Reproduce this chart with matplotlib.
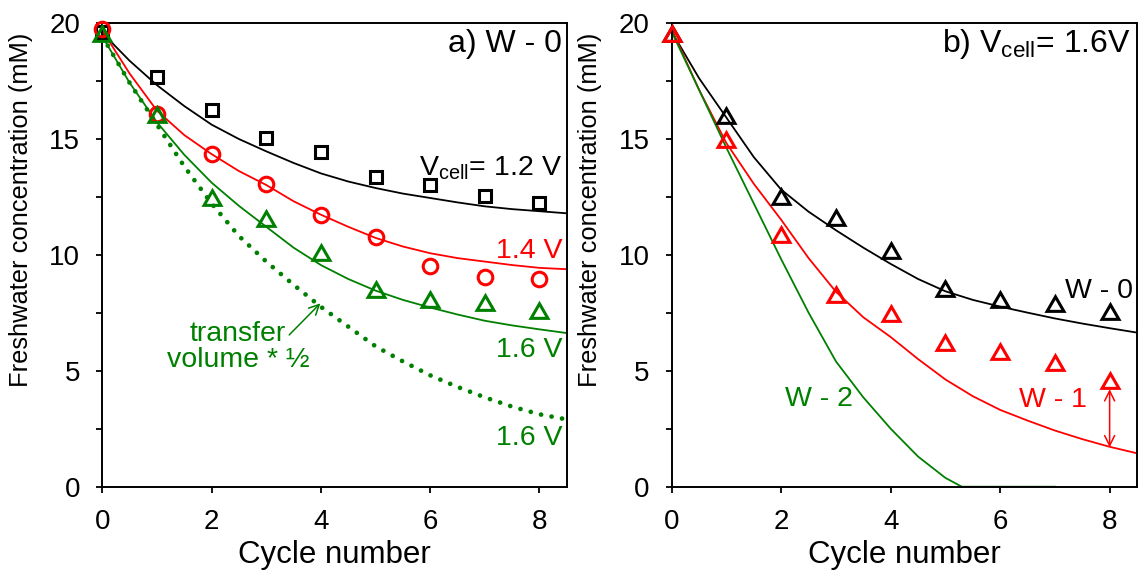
import matplotlib
matplotlib.use('Agg')
import matplotlib.pyplot as plt

plt.rcParams['font.family'] = ['Liberation Sans', 'DejaVu Sans']
plt.rcParams['mathtext.fontset'] = 'custom'
plt.rcParams['mathtext.rm'] = 'Liberation Sans'
plt.rcParams['mathtext.it'] = 'Liberation Sans:italic'

# ---------------- data ----------------
cycles = [0, 1, 2, 3, 4, 5, 6, 7, 8]
model_x = [0, 0.5, 1, 1.5, 2, 2.5, 3, 3.5, 4, 4.5, 5, 5.5, 6, 6.5, 7, 7.5, 8, 8.5]

# panel a) W - 0, measured
a_12V = [19.6, 17.66, 16.24, 15.02, 14.44, 13.36, 13.0, 12.53, 12.24]
a_14V = [19.7, 16.06, 14.33, 13.03, 11.7, 10.75, 9.51, 9.03, 8.94]
a_16V = [19.4, 15.95, 12.36, 11.45, 10.0, 8.41, 7.97, 7.83, 7.5]
# panel a) model curves
a_12V_model = [19.55, 18.35, 17.3, 16.4, 15.6, 14.98, 14.45, 13.95, 13.5, 13.15,
               12.87, 12.63, 12.44, 12.25, 12.08, 11.96, 11.87, 11.78]
a_14V_model = [19.65, 17.8, 16.2, 15.15, 14.33, 13.6, 13.0, 12.3, 11.72, 11.2,
               10.72, 10.35, 10.06, 9.85, 9.7, 9.55, 9.43, 9.37]
a_16V_model = [19.4, 17.4, 15.7, 14.3, 13.1, 12.1, 11.2, 10.3, 9.55, 8.95,
               8.45, 8.05, 7.72, 7.42, 7.15, 6.95, 6.78, 6.62]
a_16V_half_model = [19.4, 17.4, 15.6, 13.8, 12.2, 10.8, 9.7, 8.7, 7.75, 6.9,
                    6.05, 5.4, 4.8, 4.3, 3.85, 3.45, 3.12, 2.9]

# panel b) Vcell = 1.6 V, measured
b_w0 = [19.4, 15.9, 12.4, 11.5, 10.06, 8.45, 7.97, 7.79, 7.44]
b_w1 = [19.4, 14.85, 10.75, 8.16, 7.36, 6.11, 5.72, 5.25, 4.48]
# panel b) model curves
b_w0_model = [19.6, 17.6, 15.9, 14.2, 12.8, 11.85, 11.05, 10.3, 9.6, 8.95,
              8.42, 8.05, 7.76, 7.5, 7.25, 7.03, 6.83, 6.64]
b_w1_model = [19.7, 17.1, 14.8, 13.05, 11.5, 9.85, 8.4, 7.3, 6.45, 5.5,
              4.62, 3.9, 3.31, 2.85, 2.42, 2.05, 1.72, 1.44]
w2_x = [0, 0.5, 1, 1.5, 2, 2.5, 3, 3.5, 4, 4.5, 5, 5.3, 6, 7]
b_w2_model = [19.6, 17.1, 14.6, 12.2, 9.8, 7.5, 5.4, 3.85, 2.5, 1.3, 0.38, 0.0, 0.0, 0.0]

BLACK = 'black'
RED = '#ff0000'
GREEN = '#008000'
TICK_FS = 20
XLAB_FS = 22.5
YLAB_FS = 18.4
ANN_FS = 20.5
TITLE_FS = 23
TRI = (3, 0, 0)

fig = plt.figure(figsize=(11.41, 5.79), dpi=100)
axa = fig.add_axes([0.0897, 0.1594, 0.4070, 0.8017])
axb = fig.add_axes([0.5887, 0.1594, 0.4078, 0.8017])

for ax in (axa, axb):
    ax.set_xlim(0, 8.5)
    ax.set_ylim(0, 20)
    ax.set_xticks([0, 2, 4, 6, 8])
    ax.set_yticks([0, 2.5, 5, 7.5, 10, 12.5, 15, 17.5, 20])
    ax.set_yticklabels(['0', '', '5', '', '10', '', '15', '', '20'])
    ax.tick_params(direction='out', length=4, width=1.3, labelsize=TICK_FS, pad=12)
    for s in ax.spines.values():
        s.set_linewidth(1.4)
    ax.set_xlabel('Cycle number', fontsize=XLAB_FS, labelpad=4)
    ax.set_ylabel('Freshwater concentration (mM)', fontsize=YLAB_FS)
    ax.yaxis.set_label_coords(-0.149, 0.597)

lw = 1.3
mk = dict(linestyle='none', markerfacecolor='none', clip_on=False, zorder=4)

# ---- panel a ----
axa.plot(model_x, a_12V_model, color=BLACK, lw=lw)
axa.plot(model_x, a_14V_model, color=RED, lw=lw)
axa.plot(model_x, a_16V_model, color=GREEN, lw=lw)
axa.plot(model_x, a_16V_half_model, color=GREEN, lw=3.4, linestyle=(0, (0.01, 2.25)),
         dash_capstyle='round')
axa.plot(cycles, a_12V, marker='s', ms=9.2, mew=2.2, color=BLACK, **mk)
axa.plot(cycles, a_14V, marker='o', ms=10.5, mew=2.2, color=RED, **mk)
axa.plot(cycles, a_16V, marker=TRI, ms=14, mew=2.2, color=GREEN, **mk)

axa.text(8.42, 18.75, 'a) W - 0', fontsize=TITLE_FS, ha='right', va='baseline', color=BLACK)
axa.text(8.42, 13.43, r'V$_{\mathrm{cell}}$= 1.2 V', fontsize=ANN_FS, ha='right',
         va='baseline', color=BLACK)
axa.text(8.42, 9.85, '1.4 V', fontsize=ANN_FS, ha='right', va='baseline', color=RED)
axa.text(8.42, 5.6, '1.6 V', fontsize=ANN_FS, ha='right', va='baseline', color=GREEN)
axa.text(8.42, 1.8, '1.6 V', fontsize=ANN_FS, ha='right', va='baseline', color=GREEN)
axa.text(2.48, 5.17, 'transfer\nvolume * ½', fontsize=ANN_FS, ha='center', va='baseline',
         multialignment='center', color=GREEN, linespacing=1.0)
axa.annotate('', xy=(3.99, 7.9), xytext=(3.42, 6.54),
             arrowprops=dict(arrowstyle='->', color=GREEN, lw=1.1,
                             shrinkA=0, shrinkB=0, mutation_scale=18))

# ---- panel b ----
axb.plot(model_x, b_w0_model, color=BLACK, lw=lw)
axb.plot(model_x, b_w1_model, color=RED, lw=lw)
axb.plot(w2_x, b_w2_model, color=GREEN, lw=lw)
axb.plot(cycles, b_w0, marker=TRI, ms=14, mew=2.2, color=BLACK, **mk)
axb.plot(cycles, b_w1, marker=TRI, ms=14, mew=2.2, color=RED, **mk)

axb.text(8.39, 18.75, r'b) V$_{\mathrm{cell}}$= 1.6V', fontsize=TITLE_FS, ha='right',
         va='baseline', color=BLACK)
axb.text(8.42, 8.12, 'W - 0', fontsize=ANN_FS, ha='right', va='baseline', color=BLACK)
axb.text(7.58, 3.45, 'W - 1', fontsize=ANN_FS, ha='right', va='baseline', color=RED)
axb.text(3.31, 3.48, 'W - 2', fontsize=ANN_FS, ha='right', va='baseline', color=GREEN)
axb.annotate('', xy=(8.0, 4.2), xytext=(8.0, 1.7),
             arrowprops=dict(arrowstyle='<->', color=RED, lw=1.1,
                             shrinkA=0, shrinkB=0, mutation_scale=18))

fig.savefig('out.png', dpi=100)
